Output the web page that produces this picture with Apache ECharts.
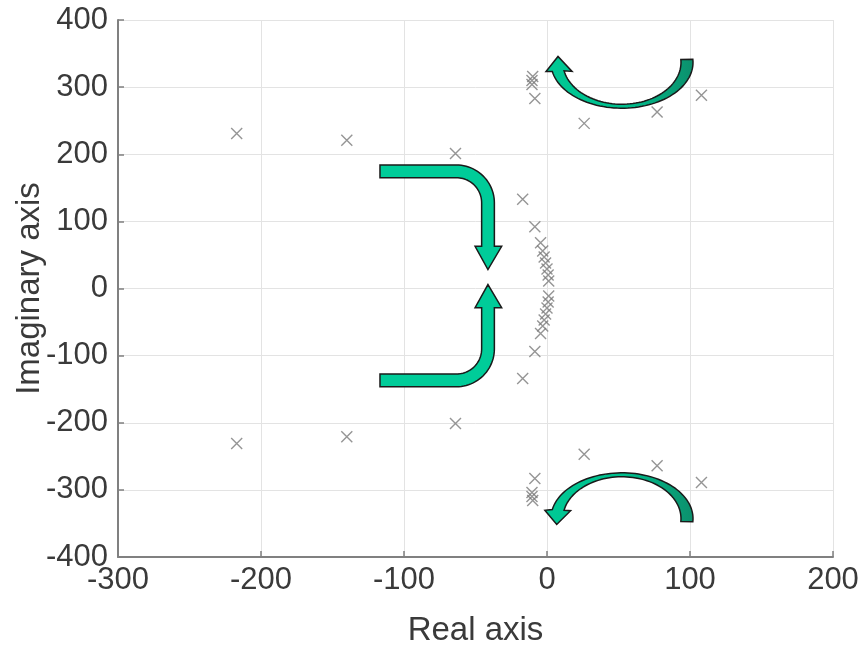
<!DOCTYPE html>
<html>
<head>
<meta charset="utf-8">
<script src="https://cdn.jsdelivr.net/npm/echarts@6/dist/echarts.min.js"></script>
<style>
html,body{margin:0;padding:0;background:#fff;}
#main{width:863px;height:647px;}
</style>
</head>
<body>
<div id="main"></div>
<script>
// ---- data (poles: real part, imaginary part) ----
const poleRe = [
  -217, -217, -140, -140, -64, -64,
  -17, -17, -8.5, -8.5, -4.5, -4.5,
  -3, -3, -2, -2, -1, -1, 0, 0, 0.8, 0.8, 1.2, 1.2,
  -8.5, -8.5, -10.5, -10.5, -10.5, -10.5, -10, -10,
  26, 26, 77, 77, 108, 108
];
const poleIm = [
  231, -231, 221, -221, 201, -201,
  133, -134, 92, -94, 68, -67,
  56, -56, 47, -47, 38, -38, 29, -29, 20, -20, 11, -11,
  283, -283, 304, -304, 310, -310, 316, -316,
  246, -247, 263, -264, 288, -289
];
const xTicks = [-300, -200, -100, 0, 100, 200];
const yTicks = [-400, -300, -200, -100, 0, 100, 200, 300, 400];
const xName = 'Real axis';
const yName = 'Imaginary axis';

// ---- annotation arrows (in data units) ----
const bentArrows = [
  {x0:-116.8, cx:-63.4, cy:127.6, rxo:26.6, ryo:56.4, rxi:17.7, ryi:37.5, hb:62.8, tip:28.2, hl:-50.3, hr:-31.7, tx:-41.3, s:1},
  {x0:-116.8, cx:-63.4, cy:-90, rxo:26.6, ryo:56.4, rxi:17.7, ryi:37.5, hb:-28.6, tip:5.9, hl:-50.3, hr:-31.7, tx:-41.3, s:-1}
];
const arcArrows = [
  {cx:52.4, cy:336.8, aO:49.7, bO:68.2, aI:41.3, bI:62.3, t0:-0.07, t1:2.94, bl:[-0.7,323.4], br:[17.5,323.4], tp:[7.7,345.7], s:1},
  {cx:52.4, cy:-342.8, aO:49.7, bO:68.2, aI:41.3, bI:62.3, t0:-0.07, t1:2.94, bl:[-1.5,-330.5], br:[16.5,-331], tp:[6.8,-351.6], s:-1}
];

function bentPoly(a){
  const p = [];
  const N = 24;
  p.push([a.x0, a.cy + a.s*a.ryo]);
  for(let i=0;i<=N;i++){ const t = Math.PI/2*(1-i/N); p.push([a.cx + a.rxo*Math.cos(t), a.cy + a.s*a.ryo*Math.sin(t)]); }
  p.push([a.cx + a.rxo, a.hb]);
  p.push([a.hr, a.hb]);
  p.push([a.tx, a.tip]);
  p.push([a.hl, a.hb]);
  p.push([a.cx + a.rxi, a.hb]);
  for(let i=0;i<=N;i++){ const t = Math.PI/2*(i/N); p.push([a.cx + a.rxi*Math.cos(t), a.cy + a.s*a.ryi*Math.sin(t)]); }
  p.push([a.x0, a.cy + a.s*a.ryi]);
  return p;
}
function arcPoly(a){
  const p = [];
  const N = 60;
  for(let i=0;i<=N;i++){ const t = a.t0 + (a.t1-a.t0)*i/N; p.push([a.cx + a.aO*Math.cos(t), a.cy - a.s*a.bO*Math.sin(t)]); }
  p.push(a.bl); p.push(a.tp); p.push(a.br);
  for(let i=N;i>=0;i--){ const t = a.t0 + (a.t1-a.t0)*i/N; p.push([a.cx + a.aI*Math.cos(t), a.cy - a.s*a.bI*Math.sin(t)]); }
  return p;
}
const arrowSpecs = bentArrows.map(a => ({kind:'bent', a})).concat(arcArrows.map(a => ({kind:'arc', a})));

const FONT = '"Liberation Sans", Arial, sans-serif';
const chart = echarts.init(document.getElementById('main'), null, {renderer:'canvas'});
const axisCommon = {
  type: 'value',
  axisLine: {show: true, onZero: false, lineStyle: {color: '#808080', width: 2}},
  axisTick: {show: true, inside: true, length: 6, lineStyle: {color: '#808080', width: 1.5}},
  splitLine: {show: true, lineStyle: {color: '#e3e3e3', width: 1}},
  axisLabel: {fontSize: 31, color: '#3a3a3a', fontFamily: FONT},
  nameLocation: 'middle',
  nameMoveOverlap: false,
  nameTextStyle: {fontSize: 33, color: '#3a3a3a', fontFamily: FONT}
};
chart.setOption({
  animation: false,
  grid: {left: 118, right: 30, top: 20, bottom: 90, containLabel: false, outerBoundsMode: 'none'},
  xAxis: Object.assign({}, axisCommon, {
    min: xTicks[0], max: xTicks[xTicks.length-1], interval: 100,
    name: xName, nameGap: 57,
    axisLabel: Object.assign({}, axisCommon.axisLabel, {margin: 8, showMinLabel: true, showMaxLabel: true})
  }),
  yAxis: Object.assign({}, axisCommon, {
    min: yTicks[0], max: yTicks[yTicks.length-1], interval: 100,
    name: yName, nameGap: 72,
    axisLabel: Object.assign({}, axisCommon.axisLabel, {margin: 10, showMinLabel: true, showMaxLabel: true})
  }),
  series: [
    {
      type: 'scatter',
      data: poleRe.map((r, i) => [r, poleIm[i]]),
      symbol: 'path://M0,0L10,10M0,10L10,0',
      symbolSize: 11,
      itemStyle: {color: 'rgba(0,0,0,0)', borderColor: '#7a7a7a', borderWidth: 1.4},
      z: 3
    },
    {
      type: 'custom',
      coordinateSystem: 'cartesian2d',
      data: arrowSpecs.map((s, i) => [s.kind === 'bent' ? s.a.tx : s.a.tp[0], s.kind === 'bent' ? s.a.tip : s.a.tp[1]]),
      renderItem: function(params, api){
        const spec = arrowSpecs[params.dataIndex];
        const pts = (spec.kind === 'bent' ? bentPoly(spec.a) : arcPoly(spec.a)).map(p => api.coord(p));
        let fill = '#00CC99';
        if (spec.kind === 'arc') {
          fill = new echarts.graphic.LinearGradient(0, 0, 1, 0, [
            {offset: 0, color: '#00C995'},
            {offset: 0.55, color: '#00BE8D'},
            {offset: 1, color: '#0C8F6C'}
          ]);
        }
        return {type: 'polygon', shape: {points: pts}, style: {fill: fill, stroke: '#1a1a1a', lineWidth: 1.5}};
      },
      z: 5,
      silent: true
    }
  ]
});
</script>
</body>
</html>
